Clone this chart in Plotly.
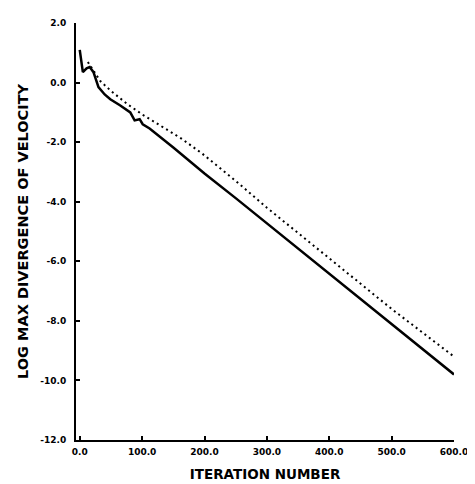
import plotly.graph_objects as go

# Solid curve (iteration, log max divergence)
solid_iter = [0, 5, 11, 16, 22, 30, 40, 49, 65, 81, 88, 96, 101, 112, 150, 200, 250,
              300, 350, 400, 450, 500, 550, 600]
solid_val = [1.1, 0.35, 0.48, 0.52, 0.35, -0.15, -0.4, -0.56, -0.77, -1.0, -1.27, -1.23,
             -1.4, -1.54, -2.18, -3.05, -3.88, -4.73, -5.57, -6.42, -7.27, -8.11, -8.95, -9.8]

# Dotted curve
dot_iter = [13, 33, 49, 76, 101, 133, 163, 196, 250, 300, 350, 400, 450, 500, 550, 600]
dot_val = [0.69, 0.05, -0.26, -0.72, -1.08, -1.5, -1.88, -2.38, -3.3, -4.2, -5.05, -5.9,
           -6.75, -7.6, -8.4, -9.2]

x_ticks = [0, 100, 200, 300, 400, 500, 600]
x_tick_labels = ["0.0", "100.0", "200.0", "300.0", "400.0", "500.0", "600.0"]
y_ticks = [2, 0, -2, -4, -6, -8, -10, -12]
y_tick_labels = ["2.0", "0.0", "-2.0", "-4.0", "-6.0", "-8.0", "-10.0", "-12.0"]

fig = go.Figure()
fig.add_trace(go.Scatter(x=dot_iter, y=dot_val, mode="lines",
                         line=dict(color="black", width=2, dash="2px,3.5px")))
fig.add_trace(go.Scatter(x=solid_iter, y=solid_val, mode="lines",
                         line=dict(color="black", width=2.5)))

font_family = "DejaVu Sans, sans-serif"
fig.update_layout(
    width=475, height=484,
    margin=dict(l=68, r=29, t=15, b=52),
    plot_bgcolor="white", paper_bgcolor="white",
    showlegend=False,
    font=dict(family=font_family, color="black"),
    xaxis=dict(range=[-6, 600], tickvals=x_ticks, ticktext=x_tick_labels,
               automargin=False,
               showgrid=False, zeroline=False, showline=True, linecolor="black",
               linewidth=2, ticks="inside", ticklen=4, tickcolor="black", tickwidth=1.5,
               ticklabelstandoff=2,
               tickfont=dict(size=9, family=font_family, weight="bold"),
               title=dict(text="ITERATION NUMBER", standoff=14,
                          font=dict(size=13.5, family=font_family, weight="bold"))),
    yaxis=dict(range=[-12, 2], tickvals=y_ticks, ticktext=y_tick_labels,
               automargin=False,
               showgrid=False, zeroline=False, showline=True, linecolor="black",
               linewidth=2, ticks="inside", ticklen=4, tickcolor="black", tickwidth=1.5,
               ticklabelstandoff=6,
               tickfont=dict(size=9, family=font_family, weight="bold"),
               title=dict(text="LOG MAX DIVERGENCE OF VELOCITY", standoff=8,
                          font=dict(size=14.5, family=font_family, weight="bold"))),
)

fig.write_html("out.html")
